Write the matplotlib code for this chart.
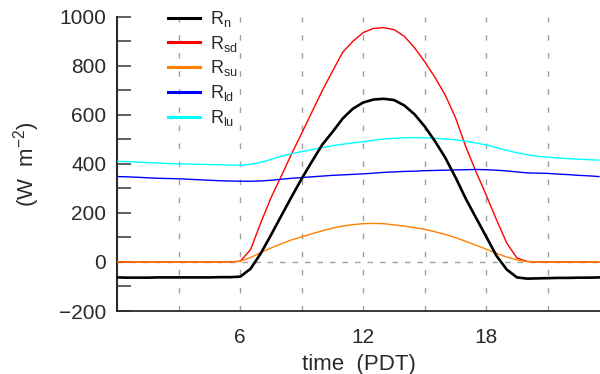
import numpy as np
import matplotlib
matplotlib.use("Agg")
import matplotlib.pyplot as plt
from matplotlib.lines import Line2D

plt.rcParams["font.family"] = ["Liberation Sans", "DejaVu Sans"]
plt.rcParams["mathtext.fontset"] = "custom"
plt.rcParams["mathtext.rm"] = "Liberation Sans"
plt.rcParams["mathtext.it"] = "Liberation Sans"
plt.rcParams["lines.scale_dashes"] = False

# ── Half-hourly radiation components (W m-2) ─────────────────────────────────
hours = np.arange(0, 24, 0.5)

r_n = [-63, -64, -64, -64, -63, -63, -63, -63, -63, -63, -62, -62,
       -60, -28, 35, 110, 188, 265, 340, 410, 478, 530, 585, 625,
       650, 662, 665, 660, 638, 602, 552, 492, 425, 345, 258, 180,
       103, 25, -31, -63, -68, -67, -66, -65, -65, -64, -64, -63]

r_sd = [0, 0, 0, 0, 0, 0, 0, 0, 0, 0, 0, 0,
        3, 50, 160, 262, 350, 440, 525, 612, 698, 778, 855, 900,
        935, 952, 955, 947, 920, 873, 816, 752, 680, 588, 470, 368,
        272, 172, 77, 16, 2, 0, 0, 0, 0, 0, 0, 0]

r_su = [0, 0, 0, 0, 0, 0, 0, 0, 0, 0, 0, 0,
        3, 18, 38, 57, 74, 90, 102, 115, 127, 138, 146, 152,
        156, 157, 156, 151, 146, 140, 133, 123, 112, 99, 84, 68,
        52, 35, 20, 8, 1, 0, 0, 0, 0, 0, 0, 0]

r_ld = [348, 347, 345, 343, 341, 340, 339, 337, 335, 333, 331, 330,
        329, 329, 330, 333, 337, 341, 344, 347, 350, 353, 355, 357,
        359, 362, 365, 367, 369, 370, 372, 373, 374, 375, 376, 377,
        376, 374, 371, 367, 363, 362, 361, 358, 356, 353, 351, 348]

r_lu = [410, 409, 407, 405, 403, 401, 400, 399, 398, 397, 396, 395,
        394, 398, 406, 418, 431, 441, 450, 458, 466, 474, 480, 485,
        490, 496, 501, 504, 506, 507, 506, 504, 501, 498, 492, 485,
        477, 466, 455, 445, 437, 431, 427, 424, 421, 419, 417, 415]

labels = [r"R$_\mathrm{n}$", r"R$_\mathrm{sd}$", r"R$_\mathrm{su}$",
          r"R$_\mathrm{ld}$", r"R$_\mathrm{lu}$"]
colors = ["black", "#ff0000", "#ff8000", "#0000ff", "#00ffff"]

TXT = "#2a2a2a"
GRID = "#a0a0a0"

fig = plt.figure(figsize=(6, 3.74), dpi=100)
ax = fig.add_axes([0.1955, 0.1684, 0.8045, 0.7872])

# reference lines: every 3 h and the zero line
for h in range(3, 24, 3):
    ax.axvline(h, color=GRID, lw=1.0, ls=(0, (4, 9)), zorder=1)
ax.axhline(0, color=GRID, lw=1.0, ls=(0, (4, 5)), zorder=1)

series = [r_sd, r_su, r_ld, r_lu]
for vals, c in zip(series, colors[1:]):
    ax.plot(hours, vals, color=c, lw=1.0, zorder=3)
ax.plot(hours, r_n, color="black", lw=1.9, zorder=4)

ax.set_xlim(0, 23.55)
ax.set_ylim(-200, 1000)
ax.set_yticks(range(-200, 1001, 200))
ax.set_yticks(range(-100, 1000, 200), minor=True)
ax.set_xticks([6, 12, 18])

for s in ["top", "right"]:
    ax.spines[s].set_visible(False)
ax.spines["left"].set_linewidth(1.5)
ax.spines["bottom"].set_linewidth(1.3)
ax.spines["left"].set_color(TXT)
ax.spines["bottom"].set_color(TXT)

ax.tick_params(axis="y", which="both", direction="in", length=10, width=1.3,
               color="#555555", labelsize=15, labelcolor=TXT, pad=8)
ax.tick_params(axis="x", which="both", length=0, labelsize=15,
               labelcolor=TXT, pad=12)

ax.set_xlabel("time  (PDT)", fontsize=16, color=TXT, labelpad=5)
ax.set_ylabel(r"(W  m$^{\mathrm{-2}}$)", fontsize=16, color=TXT)
ax.yaxis.set_label_coords(-0.156, 0.5)

handles = [Line2D([], [], color=c, lw=2.2) for c in colors]
ax.legend(handles, labels, loc="upper left", bbox_to_anchor=(0.09, 1.05),
          frameon=False, fontsize=13, handlelength=1.75, handletextpad=0.6,
          labelspacing=0.26, labelcolor=TXT, borderaxespad=0)

fig.savefig("out.png", dpi=100)
